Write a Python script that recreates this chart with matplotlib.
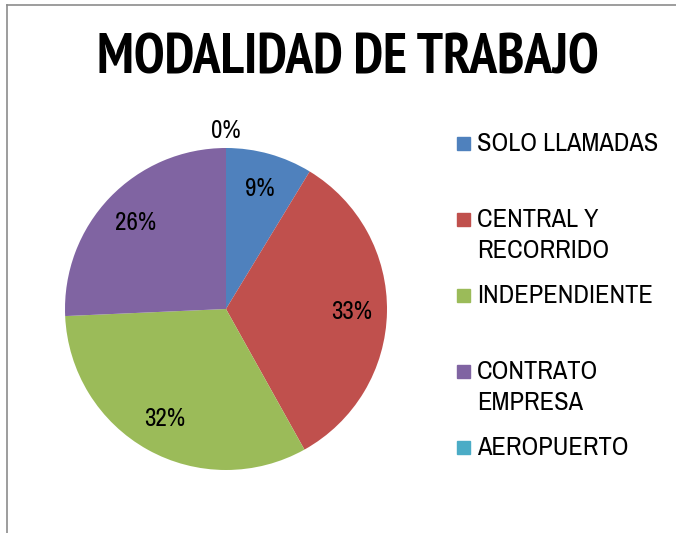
import matplotlib
matplotlib.use("Agg")
import matplotlib.pyplot as plt
from matplotlib import font_manager
from matplotlib.lines import Line2D
from matplotlib.patches import Rectangle

categories = ["SOLO LLAMADAS", "CENTRAL Y\nRECORRIDO", "INDEPENDIENTE", "CONTRATO\nEMPRESA", "AEROPUERTO"]
values = [8.7, 33.2, 32.4, 25.7, 0.0]
colors = ["#4F81BD", "#C0504D", "#9BBB59", "#8064A2", "#4BACC6"]


def pick(cands):
    # first Arial Narrow look-alike that is installed
    names = set(f.name for f in font_manager.fontManager.ttflist)
    for c in cands:
        if c in names:
            return c
    return "Liberation Sans"


body_font = pick(["Liberation Sans Narrow", "Arial Narrow", "Archivo Narrow", "PT Sans Narrow", "Roboto Condensed"])
title_font = pick(["Liberation Sans Narrow", "Arial Narrow", "PT Sans Narrow", "Roboto Condensed"])
plt.rcParams["font.family"] = [body_font, "DejaVu Sans"]

fig = plt.figure(figsize=(6.76, 5.33), dpi=100)

# frame (left and top edges visible)
fig.add_artist(Line2D([7/676, 7/676], [0, 1 - 5/533], color="#8c8c8c", lw=1.2, transform=fig.transFigure))
fig.add_artist(Line2D([7/676, 1], [1 - 5/533, 1 - 5/533], color="#8c8c8c", lw=1.2, transform=fig.transFigure))

fig.text(348/676, 1 - 59/533, "MODALIDAD DE TRABAJO", ha="center", va="center",
         fontsize=40, fontweight="bold", family=[title_font, "DejaVu Sans"])

ax = fig.add_axes([65/676, (533 - 309 - 161)/533, 322/676, 322/533])
wedges, texts, autotexts = ax.pie(values, colors=colors, startangle=90, counterclock=False,
                                  autopct=lambda p: "%.0f%%" % p, pctdistance=0.78,
                                  wedgeprops=dict(linewidth=0),
                                  textprops=dict(fontsize=18, color="black"))
ax.set_xlim(-1, 1)
ax.set_ylim(-1, 1)
ax.set_aspect("equal")
ax.axis("off")

# zero slice label sits just outside the pie
for w, t, v in zip(wedges, autotexts, values):
    if v == 0:
        t.set_position((0, 1.11))

# legend
y0 = 143
step = 76
for i, (lab, c) in enumerate(zip(categories, colors)):
    yc = y0 + i * step
    fig.add_artist(Rectangle((457/676, 1 - (yc + 7)/533), 13/676, 13/533, color=c,
                             transform=fig.transFigure))
    fig.text(477/676, 1 - (yc - 11)/533, lab, ha="left", va="top", fontsize=19, linespacing=1.4)

fig.savefig("out.png", dpi=100)
